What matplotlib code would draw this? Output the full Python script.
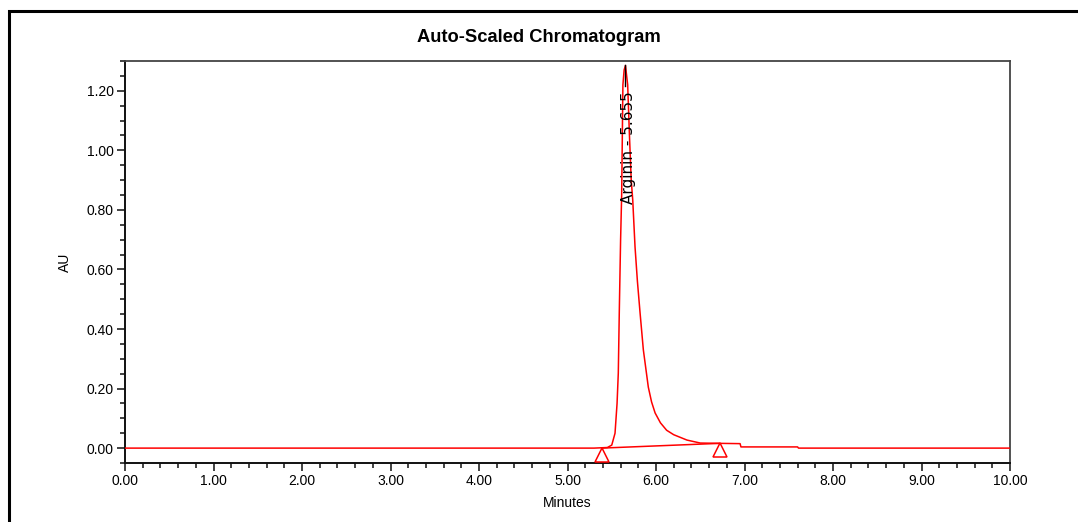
import matplotlib
matplotlib.use("Agg")
import matplotlib.pyplot as plt
from matplotlib.ticker import MultipleLocator, FormatStrFormatter
from matplotlib.patches import Rectangle

# ---- data ----
time_min = [0.00, 5.30, 5.45, 5.50, 5.537, 5.56, 5.574, 5.585, 5.60, 5.612, 5.626,
            5.64, 5.655, 5.68, 5.70, 5.72, 5.737, 5.763, 5.79, 5.82, 5.857, 5.913,
            5.95, 5.99, 6.05, 6.12, 6.20, 6.35, 6.50, 6.72, 6.95, 6.96, 7.60, 7.61, 10.00]
signal_au = [0.000, 0.000, 0.002, 0.010, 0.050, 0.150, 0.252, 0.454, 0.700, 0.850, 1.220,
             1.270, 1.285, 1.220, 1.050, 0.900, 0.834, 0.676, 0.560, 0.454, 0.330, 0.205,
             0.155, 0.118, 0.085, 0.060, 0.045, 0.027, 0.017, 0.016, 0.015, 0.004, 0.004, 0.000, 0.000]

# integration baseline (start / end of peak)
baseline_time = [5.386, 6.72]
baseline_au = [0.000, 0.016]

peak_name = "Arginin"
peak_rt = 5.655
peak_height = 1.285

x_ticks = [0, 1, 2, 3, 4, 5, 6, 7, 8, 9, 10]
y_ticks = [0.0, 0.2, 0.4, 0.6, 0.8, 1.0, 1.2]

# ---- figure ----
plt.rcParams['font.family'] = ['Liberation Sans', 'DejaVu Sans']
fig = plt.figure(figsize=(10.78, 5.22), dpi=100)
ax = fig.add_axes([125/1078, 1-463/522, (1010-125)/1078, (463-61)/522])

red = '#ff0000'
ax.plot(time_min, signal_au, color=red, lw=1.1, zorder=3)
ax.plot(baseline_time, baseline_au, color=red, lw=1.1, zorder=3)
# peak start/end markers (hollow triangles just below the baseline)
ax.plot(baseline_time, [v - 0.023 for v in baseline_au], linestyle='none', marker='^',
        ms=10, mfc='white', mec=red, mew=1.1, zorder=4)

# peak label
ax.plot([peak_rt, peak_rt], [peak_height, 1.215], color='black', lw=1.0, zorder=5)
ax.text(peak_rt + 0.03, 1.200, f"{peak_name} - {peak_rt:.3f}", rotation=90,
        ha='center', va='top', fontsize=11, color='black', zorder=6,
        family=['DejaVu Sans'])

ax.set_xlim(0, 10)
ax.set_ylim(-0.05, 1.30)
ax.set_xticks(x_ticks)
ax.set_yticks(y_ticks)
ax.xaxis.set_major_formatter(FormatStrFormatter('%.2f'))
ax.yaxis.set_major_formatter(FormatStrFormatter('%.2f'))
ax.xaxis.set_minor_locator(MultipleLocator(0.2))
ax.yaxis.set_minor_locator(MultipleLocator(0.05))
ax.tick_params(axis='both', which='major', direction='out', length=6, width=1.2,
               labelsize=10, pad=2, color='#222222')
ax.tick_params(axis='both', which='minor', direction='out', length=3.6, width=1.2,
               color='#222222')
for s in ['left', 'bottom']:
    ax.spines[s].set_linewidth(1.4)
    ax.spines[s].set_color('#111111')
for s in ['top', 'right']:
    ax.spines[s].set_linewidth(1.3)
    ax.spines[s].set_color('#444444')

ax.set_xlabel('Minutes', fontsize=10, labelpad=6)
ax.set_ylabel('AU', fontsize=10, labelpad=11)

fig.text(0.4995, 0.928, 'Auto-Scaled Chromatogram', ha='center', va='center',
         fontsize=13.2, fontweight='bold')

# outer frame (runs off the right and bottom edges)
fig.patches.append(Rectangle((9/1078, -0.1), 1.2, 1 - 11/522 + 0.1,
                             transform=fig.transFigure, fill=False,
                             edgecolor='black', linewidth=2.2))

fig.savefig('out.png', dpi=100)
